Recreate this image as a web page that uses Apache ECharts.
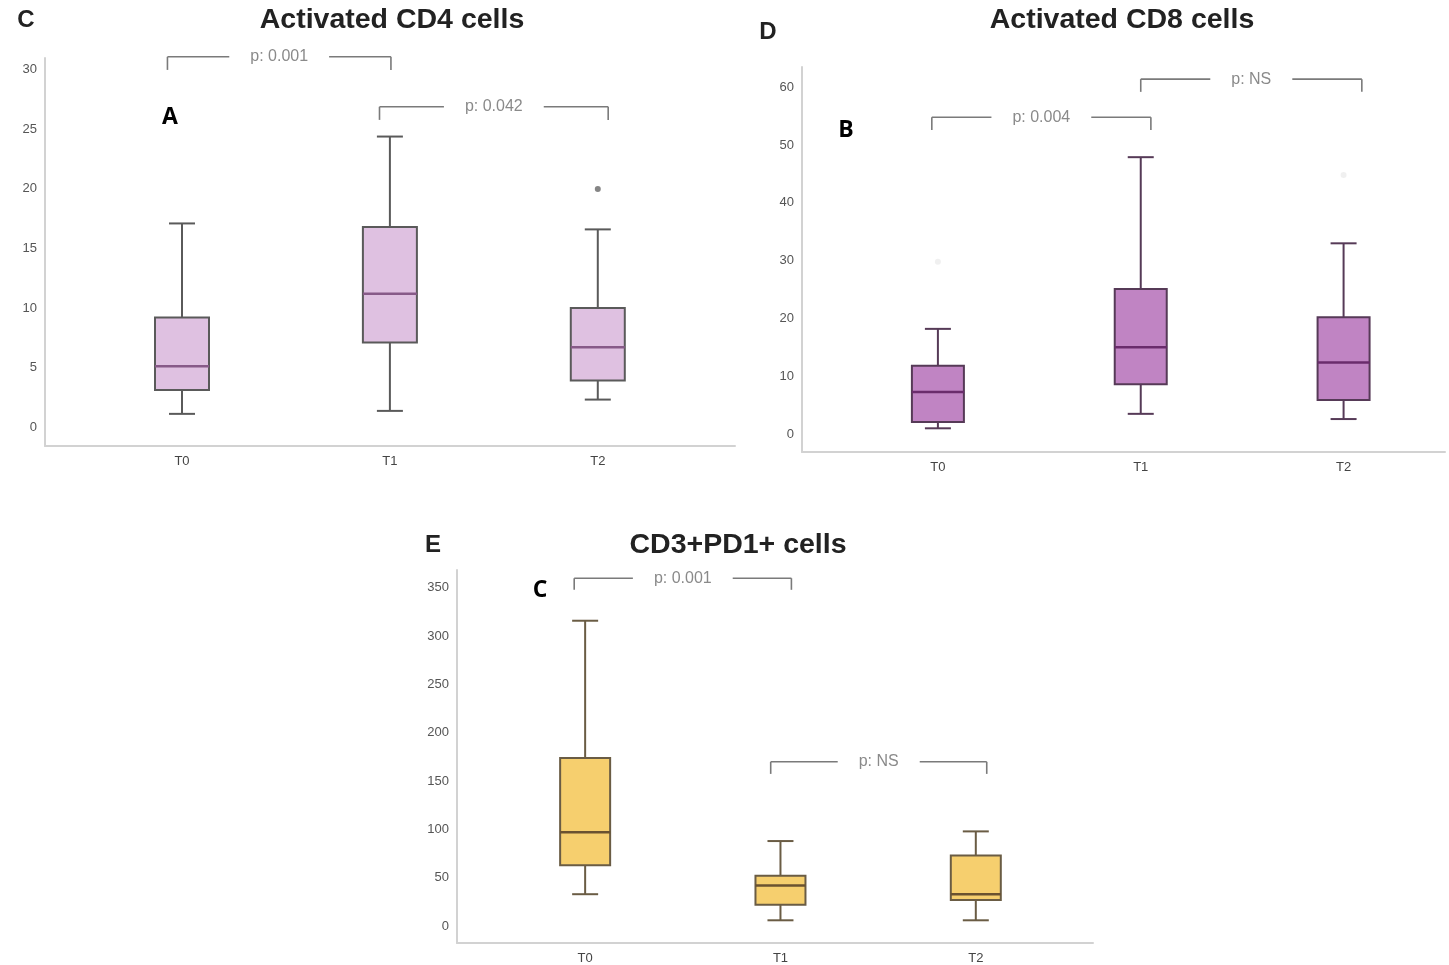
<!DOCTYPE html>
<html><head><meta charset="utf-8">
<script src="https://cdn.jsdelivr.net/npm/echarts@6/dist/echarts.min.js"></script>
<style>html,body{margin:0;padding:0;background:#fff}#c{width:1449px;height:965px}</style>
</head><body><div id="c"></div>
<script>
// ---------- data ----------
const categories = ['T0', 'T1', 'T2'];
// box rows: [lowerWhisker, Q1, median, Q3, upperWhisker] for T0, T1, T2
const cd4Boxes = [[1.1, 3.1, 5.1, 9.2, 17.1], [1.35, 7.1, 11.2, 16.8, 24.4], [2.3, 3.9, 6.7, 10.0, 16.6]];
const cd4Outliers = [[2, 20.0]];
const cd8Boxes = [[1.0, 2.1, 7.3, 11.8, 18.2], [3.5, 8.6, 15.0, 25.1, 47.9], [2.6, 5.9, 12.4, 20.2, 33.0]];
const cd8Outliers = [[0, 29.8], [2, 44.8]];
const pd1Boxes = [[33, 63, 97, 174, 316], [6, 22, 42, 52, 88], [6, 27, 33, 73, 98]];
const pd1Outliers = [];
const cd4Ticks = [0, 5, 10, 15, 20, 25, 30];
const cd8Ticks = [0, 10, 20, 30, 40, 50, 60];
const pd1Ticks = [0, 50, 100, 150, 200, 250, 300, 350];
// brackets: [xStart, xEnd, yBar, yTickEnd]
const cd4Brackets = [[-0.07, 1.005, 31.1, 30.0], [0.95, 2.05, 26.9, 25.8]];
const cd4BracketLabels = ['p: 0.001', 'p: 0.042'];
const cd8Brackets = [[-0.03, 1.05, 54.8, 52.6], [1.0, 2.09, 61.4, 59.2]];
const cd8BracketLabels = ['p: 0.004', 'p: NS'];
const pd1Brackets = [[-0.056, 1.056, 360, 348], [0.95, 2.056, 170, 157.5]];
const pd1BracketLabels = ['p: 0.001', 'p: NS'];

// ---------- helpers ----------
const measureCtx = document.createElement('canvas').getContext('2d');
const P_FONT = '16px "Liberation Sans", Arial, sans-serif';
function textW(t) { measureCtx.font = P_FONT; return measureCtx.measureText(t).width; }

function boxRender(st) {
  return function (params, api) {
    const x = api.value(0);
    const lo = api.coord([x, api.value(1)]), q1 = api.coord([x, api.value(2)]),
      md = api.coord([x, api.value(3)]), q3 = api.coord([x, api.value(4)]), hi = api.coord([x, api.value(5)]);
    const cx = lo[0], hw = st.half, cw = st.cap;
    const ls = { stroke: st.stroke, lineWidth: 2 };
    return {
      type: 'group', children: [
        { type: 'line', shape: { x1: cx, y1: hi[1], x2: cx, y2: q3[1] }, style: ls },
        { type: 'line', shape: { x1: cx, y1: q1[1], x2: cx, y2: lo[1] }, style: ls },
        { type: 'line', shape: { x1: cx - cw, y1: hi[1], x2: cx + cw, y2: hi[1] }, style: ls },
        { type: 'line', shape: { x1: cx - cw, y1: lo[1], x2: cx + cw, y2: lo[1] }, style: ls },
        { type: 'rect', shape: { x: cx - hw, y: q3[1], width: 2 * hw, height: q1[1] - q3[1] }, style: { fill: st.fill, stroke: st.stroke, lineWidth: 2 } },
        { type: 'line', shape: { x1: cx - hw, y1: md[1], x2: cx + hw, y2: md[1] }, style: { stroke: st.median, lineWidth: 2.5 } }
      ]
    };
  };
}
function bracketRender(labels) {
  return function (params, api) {
    const a = api.coord([api.value(0), api.value(2)]), b = api.coord([api.value(1), api.value(2)]);
    const ae = api.coord([api.value(0), api.value(3)]), be = api.coord([api.value(1), api.value(3)]);
    const t = labels[params.dataIndex];
    const cx = (a[0] + b[0]) / 2, g = textW(t) / 2 + 21;
    const ls = { stroke: '#7a7a7a', lineWidth: 1.6 };
    return {
      type: 'group', children: [
        { type: 'line', shape: { x1: a[0], y1: ae[1], x2: a[0], y2: a[1] }, style: ls },
        { type: 'line', shape: { x1: a[0], y1: a[1], x2: cx - g, y2: a[1] }, style: ls },
        { type: 'line', shape: { x1: cx + g, y1: b[1], x2: b[0], y2: b[1] }, style: ls },
        { type: 'line', shape: { x1: b[0], y1: b[1], x2: b[0], y2: be[1] }, style: ls },
        { type: 'text', x: cx, y: a[1], style: { text: t, font: P_FONT, fill: '#8a8a8a', align: 'center', verticalAlign: 'middle' } }
      ]
    };
  };
}
function axisPair(i, xmin, xmax, ymin, ymax, ticks) {
  const line = { show: true, onZero: false, lineStyle: { color: '#d2d2d2', width: 2 } };
  return {
    x: { gridIndex: i, type: 'value', min: xmin, max: xmax, axisLine: line, axisTick: { show: false }, splitLine: { show: false },
      axisLabel: { customValues: [0, 1, 2], formatter: v => categories[Math.round(v)], color: '#444', fontSize: 13, margin: 9, fontFamily: 'Liberation Sans' } },
    y: { gridIndex: i, type: 'value', min: ymin, max: ymax, axisLine: line, axisTick: { show: false }, splitLine: { show: false },
      axisLabel: { customValues: ticks, color: '#555', fontSize: 13, margin: 8, fontFamily: 'Liberation Sans' } }
  };
}
const toRows = boxes => boxes.map((b, i) => [i].concat(b));

const aC = axisPair(0, -0.659, 2.66, -1.6, 31.0, cd4Ticks);
const aD = axisPair(1, -0.67, 2.5, -3.1, 63.5, cd8Ticks);
const aE = axisPair(2, -0.656, 2.6, -17.5, 368.5, pd1Ticks);

const styleC = { half: 27, cap: 13, fill: '#dfc1e1', stroke: '#5a5a5a', median: '#875a88' };
const styleD = { half: 26, cap: 13, fill: '#c084c3', stroke: '#563a57', median: '#6a2c6c' };
const styleE = { half: 25, cap: 13, fill: '#f6cf6e', stroke: '#6a5c44', median: '#6a5230' };

const titleFont = 'bold 28.5px "Liberation Sans", Arial, sans-serif';
const letterFont = 'bold 24px "Liberation Sans", Arial, sans-serif';
const overFont = 'bold 23px "Open Sans", "Liberation Sans", sans-serif';
function txt(t, x, y, font, color) {
  return { type: 'text', x: x, y: y, style: { text: t, font: font, fill: color || '#222', align: 'center', verticalAlign: 'middle' } };
}

const chart = echarts.init(document.getElementById('c'));
chart.setOption({
  animation: false,
  backgroundColor: '#fff',
  grid: [
    { left: 45, top: 58, width: 690, height: 388 },
    { left: 802, top: 67, width: 643, height: 385 },
    { left: 457, top: 570, width: 636, height: 375 }
  ],
  xAxis: [aC.x, aD.x, aE.x],
  yAxis: [aC.y, aD.y, aE.y],
  graphic: [
    txt('C', 26, 20, letterFont), txt('Activated CD4 cells', 392, 20, titleFont), txt('A', 170, 117, overFont, '#000'),
    txt('D', 768, 32, letterFont), txt('Activated CD8 cells', 1122, 20, titleFont), txt('B', 846, 130, overFont, '#000'),
    txt('E', 433, 545, letterFont), txt('CD3+PD1+ cells', 738, 545, titleFont), txt('C', 540, 590, overFont, '#000')
  ],
  series: [
    { type: 'custom', xAxisIndex: 0, yAxisIndex: 0, renderItem: boxRender(styleC), data: toRows(cd4Boxes), clip: false },
    { type: 'scatter', xAxisIndex: 0, yAxisIndex: 0, data: cd4Outliers, symbolSize: 6, itemStyle: { color: '#666' } },
    { type: 'custom', xAxisIndex: 0, yAxisIndex: 0, renderItem: bracketRender(cd4BracketLabels), data: cd4Brackets, clip: false },
    { type: 'custom', xAxisIndex: 1, yAxisIndex: 1, renderItem: boxRender(styleD), data: toRows(cd8Boxes), clip: false },
    { type: 'scatter', xAxisIndex: 1, yAxisIndex: 1, data: cd8Outliers, symbolSize: 6, itemStyle: { color: '#ececec' } },
    { type: 'custom', xAxisIndex: 1, yAxisIndex: 1, renderItem: bracketRender(cd8BracketLabels), data: cd8Brackets, clip: false },
    { type: 'custom', xAxisIndex: 2, yAxisIndex: 2, renderItem: boxRender(styleE), data: toRows(pd1Boxes), clip: false },
    { type: 'scatter', xAxisIndex: 2, yAxisIndex: 2, data: pd1Outliers, symbolSize: 6, itemStyle: { color: '#666' } },
    { type: 'custom', xAxisIndex: 2, yAxisIndex: 2, renderItem: bracketRender(pd1BracketLabels), data: pd1Brackets, clip: false }
  ]
});
</script></body></html>
